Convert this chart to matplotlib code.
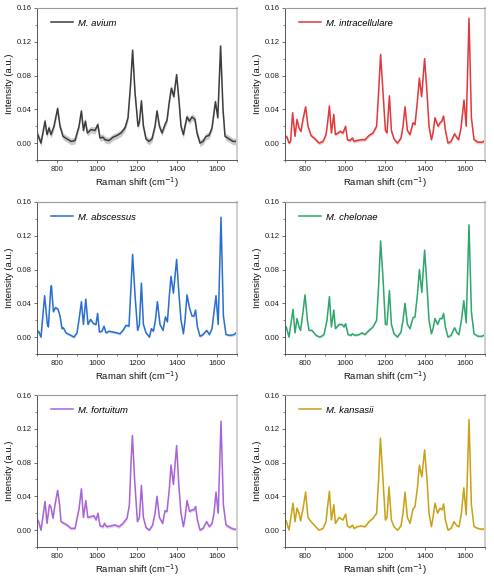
import matplotlib
matplotlib.use("Agg")
import matplotlib.pyplot as plt
from matplotlib.ticker import MultipleLocator
import numpy as np

plt.rcParams['font.family'] = ['Liberation Sans', 'DejaVu Sans']

# ---- data ----
avium_x = [700, 712, 720, 740, 750, 760, 770, 785, 803, 815, 830, 850, 870, 890, 910, 922, 932, 942, 952, 970, 990, 1004, 1015, 1030, 1040, 1060, 1080, 1100, 1120, 1140, 1155, 1168, 1178, 1190, 1205, 1212, 1222, 1232, 1245, 1260, 1275, 1290, 1300, 1312, 1325, 1340, 1350, 1362, 1372, 1384, 1398, 1410, 1420, 1432, 1440, 1450, 1462, 1475, 1490, 1500, 1515, 1530, 1545, 1560, 1575, 1592, 1604, 1618, 1630, 1640, 1660, 1680, 1700]
avium_y = [0.012, 0.005, 0.0, 0.026, 0.01, 0.018, 0.01, 0.02, 0.041, 0.02, 0.008, 0.005, 0.002, 0.003, 0.02, 0.038, 0.015, 0.026, 0.012, 0.016, 0.015, 0.022, 0.006, 0.007, 0.004, 0.003, 0.007, 0.009, 0.012, 0.018, 0.03, 0.07, 0.11, 0.06, 0.02, 0.025, 0.05, 0.02, 0.005, 0.002, 0.005, 0.02, 0.038, 0.02, 0.012, 0.022, 0.027, 0.05, 0.065, 0.055, 0.081, 0.05, 0.02, 0.01, 0.02, 0.031, 0.026, 0.031, 0.028, 0.012, 0.0, 0.002, 0.008, 0.009, 0.018, 0.049, 0.03, 0.115, 0.04, 0.008, 0.005, 0.002, 0.002]

intra_x = [700, 710, 720, 728, 738, 750, 760, 770, 780, 790, 803, 815, 830, 850, 870, 890, 905, 912, 922, 932, 944, 952, 965, 975, 990, 1003, 1012, 1025, 1037, 1045, 1060, 1080, 1100, 1120, 1140, 1158, 1168, 1178, 1190, 1202, 1210, 1222, 1232, 1245, 1262, 1280, 1290, 1300, 1312, 1325, 1340, 1350, 1362, 1372, 1383, 1398, 1410, 1420, 1432, 1440, 1450, 1465, 1475, 1484, 1493, 1502, 1515, 1530, 1548, 1558, 1568, 1580, 1595, 1606, 1620, 1632, 1645, 1665, 1685, 1700]
intra_y = [0.009, 0.007, 0.0, 0.002, 0.036, 0.008, 0.028, 0.018, 0.014, 0.028, 0.043, 0.02, 0.009, 0.005, 0.0, 0.002, 0.01, 0.022, 0.044, 0.012, 0.034, 0.01, 0.012, 0.014, 0.012, 0.02, 0.004, 0.003, 0.006, 0.002, 0.003, 0.004, 0.004, 0.009, 0.012, 0.02, 0.06, 0.105, 0.06, 0.015, 0.012, 0.056, 0.015, 0.005, 0.0, 0.006, 0.02, 0.043, 0.015, 0.01, 0.024, 0.022, 0.05, 0.077, 0.055, 0.1, 0.06, 0.02, 0.004, 0.012, 0.03, 0.02, 0.024, 0.026, 0.032, 0.015, 0.0, 0.002, 0.011, 0.007, 0.004, 0.018, 0.051, 0.02, 0.148, 0.03, 0.004, 0.001, 0.001, 0.003]

absc_x = [700, 708, 720, 738, 752, 757, 768, 772, 782, 792, 805, 815, 825, 832, 845, 870, 885, 900, 912, 922, 932, 944, 955, 968, 982, 995, 1003, 1012, 1025, 1035, 1045, 1060, 1080, 1100, 1115, 1130, 1145, 1160, 1168, 1178, 1190, 1203, 1212, 1222, 1232, 1245, 1262, 1272, 1282, 1292, 1302, 1315, 1330, 1342, 1352, 1362, 1370, 1382, 1398, 1410, 1420, 1432, 1440, 1450, 1462, 1475, 1485, 1493, 1502, 1515, 1530, 1548, 1562, 1575, 1585, 1595, 1606, 1620, 1632, 1645, 1665, 1685, 1700]
absc_y = [0.005, 0.007, 0.0, 0.049, 0.015, 0.012, 0.055, 0.061, 0.03, 0.035, 0.033, 0.025, 0.01, 0.011, 0.005, 0.002, 0.0, 0.005, 0.024, 0.042, 0.015, 0.045, 0.015, 0.021, 0.016, 0.015, 0.028, 0.006, 0.007, 0.013, 0.005, 0.007, 0.006, 0.005, 0.004, 0.008, 0.014, 0.013, 0.05, 0.098, 0.05, 0.008, 0.015, 0.064, 0.015, 0.005, 0.0, 0.01, 0.007, 0.02, 0.042, 0.015, 0.008, 0.024, 0.018, 0.05, 0.072, 0.052, 0.092, 0.05, 0.02, 0.004, 0.02, 0.05, 0.035, 0.025, 0.025, 0.032, 0.012, 0.001, 0.003, 0.008, 0.003, 0.01, 0.03, 0.049, 0.015, 0.142, 0.025, 0.003, 0.002, 0.003, 0.006]

chel_x = [700, 706, 720, 740, 750, 760, 770, 778, 790, 800, 812, 820, 835, 855, 875, 895, 910, 922, 932, 944, 952, 970, 985, 995, 1003, 1015, 1030, 1037, 1050, 1070, 1085, 1100, 1120, 1140, 1158, 1168, 1178, 1190, 1202, 1210, 1222, 1232, 1245, 1262, 1280, 1290, 1300, 1312, 1325, 1340, 1350, 1362, 1372, 1384, 1398, 1410, 1420, 1432, 1440, 1450, 1463, 1475, 1485, 1493, 1502, 1515, 1530, 1548, 1560, 1570, 1582, 1594, 1606, 1620, 1632, 1645, 1665, 1685, 1700]
chel_y = [0.013, 0.012, 0.0, 0.033, 0.005, 0.022, 0.012, 0.008, 0.03, 0.05, 0.02, 0.008, 0.008, 0.002, 0.0, 0.003, 0.02, 0.048, 0.012, 0.032, 0.01, 0.015, 0.015, 0.012, 0.016, 0.003, 0.002, 0.004, 0.002, 0.003, 0.005, 0.003, 0.008, 0.012, 0.02, 0.06, 0.114, 0.07, 0.015, 0.015, 0.055, 0.015, 0.004, 0.0, 0.006, 0.02, 0.04, 0.015, 0.01, 0.023, 0.024, 0.05, 0.08, 0.053, 0.103, 0.06, 0.02, 0.004, 0.01, 0.022, 0.015, 0.022, 0.022, 0.028, 0.012, 0.0, 0.002, 0.011, 0.005, 0.003, 0.02, 0.043, 0.017, 0.133, 0.03, 0.004, 0.001, 0.001, 0.003]

fort_x = [700, 708, 720, 740, 750, 762, 770, 780, 790, 803, 813, 820, 835, 850, 870, 890, 910, 922, 932, 944, 954, 970, 985, 995, 1005, 1015, 1030, 1037, 1048, 1070, 1090, 1110, 1130, 1150, 1162, 1170, 1177, 1188, 1202, 1212, 1222, 1232, 1245, 1262, 1278, 1290, 1300, 1312, 1328, 1340, 1350, 1362, 1370, 1382, 1398, 1410, 1420, 1432, 1440, 1450, 1463, 1475, 1485, 1493, 1502, 1515, 1530, 1548, 1562, 1575, 1585, 1595, 1606, 1620, 1632, 1645, 1665, 1685, 1700]
fort_y = [0.013, 0.01, 0.0, 0.034, 0.008, 0.03, 0.027, 0.014, 0.03, 0.047, 0.03, 0.01, 0.008, 0.006, 0.002, 0.002, 0.025, 0.049, 0.015, 0.035, 0.015, 0.016, 0.017, 0.012, 0.02, 0.005, 0.004, 0.008, 0.004, 0.005, 0.006, 0.004, 0.008, 0.014, 0.03, 0.08, 0.112, 0.06, 0.01, 0.015, 0.053, 0.015, 0.003, 0.0, 0.006, 0.02, 0.04, 0.015, 0.008, 0.023, 0.022, 0.05, 0.077, 0.054, 0.1, 0.05, 0.02, 0.004, 0.015, 0.035, 0.022, 0.024, 0.024, 0.028, 0.012, 0.0, 0.002, 0.01, 0.004, 0.008, 0.02, 0.045, 0.02, 0.129, 0.03, 0.006, 0.003, 0.001, 0.001]

kans_x = [700, 706, 720, 740, 750, 760, 770, 778, 790, 803, 815, 830, 850, 870, 890, 905, 912, 922, 932, 944, 952, 970, 990, 1003, 1012, 1025, 1037, 1045, 1060, 1080, 1100, 1120, 1140, 1158, 1168, 1177, 1190, 1202, 1210, 1220, 1232, 1245, 1262, 1280, 1290, 1300, 1312, 1325, 1340, 1350, 1362, 1372, 1384, 1398, 1410, 1420, 1432, 1440, 1450, 1463, 1475, 1485, 1493, 1502, 1515, 1530, 1545, 1560, 1570, 1582, 1594, 1606, 1620, 1632, 1645, 1665, 1685, 1700]
kans_y = [0.012, 0.011, 0.0, 0.032, 0.01, 0.026, 0.02, 0.011, 0.025, 0.045, 0.015, 0.01, 0.005, 0.0, 0.002, 0.01, 0.026, 0.046, 0.012, 0.03, 0.008, 0.015, 0.012, 0.019, 0.005, 0.003, 0.006, 0.002, 0.004, 0.005, 0.004, 0.01, 0.014, 0.02, 0.06, 0.109, 0.06, 0.012, 0.015, 0.051, 0.012, 0.004, 0.0, 0.005, 0.02, 0.045, 0.015, 0.008, 0.025, 0.028, 0.05, 0.077, 0.063, 0.095, 0.06, 0.02, 0.004, 0.015, 0.032, 0.02, 0.026, 0.024, 0.031, 0.012, 0.0, 0.002, 0.01, 0.005, 0.004, 0.02, 0.05, 0.018, 0.131, 0.03, 0.004, 0.002, 0.001, 0.002]

species = ["M. avium", "M. intracellulare", "M. abscessus", "M. chelonae", "M. fortuitum", "M. kansasii"]
xs = [avium_x, intra_x, absc_x, chel_x, fort_x, kans_x]
ys = [avium_y, intra_y, absc_y, chel_y, fort_y, kans_y]
band = [0.004, 0.002, 0.0015, 0.0012, 0.002, 0.0012]  # approx. std half-width
colors = ["#3c3c3c", "#e0393b", "#2a6fcf", "#2fa66c", "#a764d9", "#c9a117"]
band_colors = ["#a8a8a8", "#f2a0a0", "#9cc0ee", "#a0d8bc", "#d9b8f2", "#ecd99a"]

W, H = 494, 582
fig = plt.figure(figsize=(W / 100, H / 100), dpi=100)

lefts = [37, 285]
rows = [(8, 160), (202, 354), (395, 547)]
aw = 200

for i, name in enumerate(species):
    r, c = divmod(i, 2)
    top, bot = rows[r]
    ax = fig.add_axes([lefts[c] / W, 1 - bot / H, aw / W, (bot - top) / H])
    x = np.array(xs[i])
    y = np.array(ys[i])
    ax.fill_between(x, y - band[i], y + band[i], color=band_colors[i], alpha=0.6, lw=0)
    ax.plot(x, y, color=colors[i], lw=1.1, label=name)
    ax.set_xlim(700, 1700)
    ax.set_ylim(-0.02, 0.16)
    ax.xaxis.set_minor_locator(MultipleLocator(100))
    ax.yaxis.set_major_locator(MultipleLocator(0.04))
    ax.yaxis.set_minor_locator(MultipleLocator(0.02))
    ax.set_xticks([800, 1000, 1200, 1400, 1600])
    ax.yaxis.set_major_formatter(matplotlib.ticker.FormatStrFormatter('%.2f'))
    ax.tick_params(which='major', direction='out', length=2.5, width=0.6, labelsize=5.6,
                   color='#555555', labelcolor='#222222', pad=1.5)
    ax.tick_params(which='minor', direction='out', length=1.5, width=0.5, color='#555555')
    for s in ['left', 'bottom']:
        ax.spines[s].set_color('#555555')
        ax.spines[s].set_linewidth(0.7)
    ax.spines['top'].set_color('#9a9a9a')
    ax.spines['top'].set_linewidth(0.8)
    ax.spines['right'].set_color('#cfcfcf')
    ax.spines['right'].set_linewidth(1.4)
    ax.set_xlabel("Raman shift (cm$^{-1}$)", fontsize=6.8, labelpad=2, color='#111111')
    ax.set_ylabel("Intensity (a.u.)", fontsize=6.8, labelpad=2, color='#111111')
    ax.legend(loc='upper left', frameon=False, prop={'style': 'italic', 'size': 6.8},
              handlelength=2.4, handletextpad=0.5, borderaxespad=0.4,
              bbox_to_anchor=(0.03, 0.98))

fig.savefig("out.png", dpi=100)
